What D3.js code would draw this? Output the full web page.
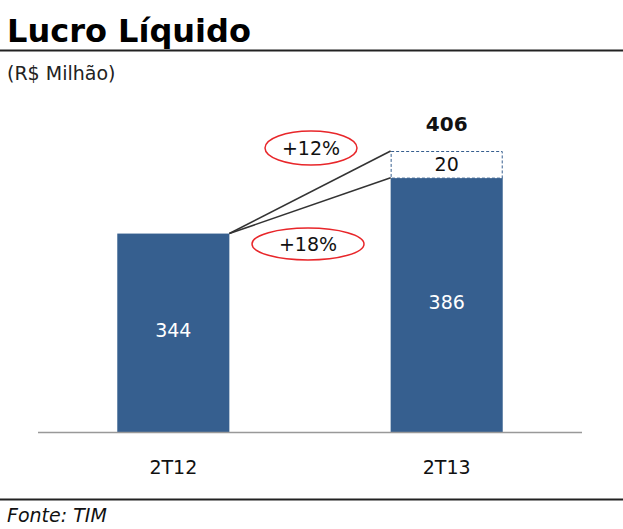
<!DOCTYPE html>
<html>
<head>
<meta charset="utf-8">
<script src="https://cdn.jsdelivr.net/npm/d3@7"></script>
<style>
  body { margin: 0; background: #fff; }
  text { font-family: "DejaVu Sans", Verdana, sans-serif; }
</style>
</head>
<body>
<svg id="svg" width="623" height="529"></svg>
<script>
const categories = ["2T12", "2T13"]
const baseValues = [344, 386]
const extraValues = [0, 20]
const totalLabel = 406
const growthLabels = ["+12%", "+18%"]

const svg = d3.select("#svg")
const x = d3.scaleBand(categories, [38, 582]).paddingInner(0.59).paddingOuter(0.29)
const y = d3.scaleLinear([195, 406], [432, 151])
const barColor = "#365f8f"

// header
svg.append("text").attr("x", 7).attr("y", 42).attr("font-size", 32).attr("font-weight", "bold").attr("fill", "#000").text("Lucro Líquido")
svg.append("line").attr("x1", 0).attr("x2", 623).attr("y1", 50.5).attr("y2", 50.5).attr("stroke", "#222").attr("stroke-width", 2)
svg.append("text").attr("x", 7).attr("y", 80).attr("font-size", 19).attr("fill", "#222").text("(R$ Milhão)")

// bars
svg.selectAll("rect.bar").data(categories).join("rect").attr("class", "bar")
  .attr("x", d => x(d)).attr("width", x.bandwidth())
  .attr("y", (d, i) => y(baseValues[i])).attr("height", (d, i) => y.range()[0] - y(baseValues[i]))
  .attr("fill", barColor)

// dashed extra box
const topValue = baseValues[1] + extraValues[1]
svg.append("rect").attr("x", x(categories[1]) + 0.5).attr("width", x.bandwidth() - 1)
  .attr("y", y(topValue) + 0.5).attr("height", y(baseValues[1]) - y(topValue))
  .attr("fill", "#fff").attr("stroke", barColor).attr("stroke-dasharray", "3,2").attr("stroke-width", 1)

svg.selectAll("text.val").data(categories).join("text").attr("class", "val")
  .attr("x", d => x(d) + x.bandwidth() / 2)
  .attr("y", (d, i) => (y(baseValues[i]) + y.range()[0]) / 2 + 4)
  .attr("text-anchor", "middle").attr("font-size", 19).attr("fill", "#fff")
  .text((d, i) => baseValues[i])

svg.append("text").attr("x", x(categories[1]) + x.bandwidth() / 2).attr("y", (y(topValue) + y(baseValues[1])) / 2 + 7)
  .attr("text-anchor", "middle").attr("font-size", 19).attr("fill", "#111").text(extraValues[1])
svg.append("text").attr("x", x(categories[1]) + x.bandwidth() / 2).attr("y", y(topValue) - 20)
  .attr("text-anchor", "middle").attr("font-size", 20).attr("font-weight", "bold").attr("fill", "#111").text(totalLabel)

// connector lines
const x0 = x(categories[0]) + x.bandwidth()
const x1 = x(categories[1])
const line = d3.line()
svg.selectAll("path.conn").data([topValue, baseValues[1]]).join("path").attr("class", "conn")
  .attr("d", d => line([[x0, y(baseValues[0])], [x1, y(d)]]))
  .attr("stroke", "#333").attr("stroke-width", 1.6).attr("fill", "none")

// growth ellipses
const ells = [{ cx: 311, cy: 148, rx: 46, ry: 17 }, { cx: 308, cy: 244, rx: 56, ry: 16 }]
ells.forEach((e, i) => {
  svg.append("ellipse").attr("cx", e.cx).attr("cy", e.cy).attr("rx", e.rx).attr("ry", e.ry)
    .attr("fill", "#fff").attr("stroke", "#e8262a").attr("stroke-width", 1.5)
  svg.append("text").attr("x", e.cx).attr("y", e.cy + 7).attr("text-anchor", "middle")
    .attr("font-size", 19).attr("fill", "#111").text(growthLabels[i])
})

// axis
svg.append("line").attr("x1", 38).attr("x2", 582).attr("y1", 432.5).attr("y2", 432.5).attr("stroke", "#999").attr("stroke-width", 1.5)
svg.selectAll("text.cat").data(categories).join("text").attr("class", "cat")
  .attr("x", d => x(d) + x.bandwidth() / 2).attr("y", 474)
  .attr("text-anchor", "middle").attr("font-size", 19).attr("fill", "#111").text(d => d)

// footer
svg.append("line").attr("x1", 0).attr("x2", 623).attr("y1", 499.5).attr("y2", 499.5).attr("stroke", "#222").attr("stroke-width", 2)
svg.append("text").attr("x", 7).attr("y", 522).attr("font-size", 19).attr("font-style", "italic").attr("fill", "#111").text("Fonte: TIM")
</script>
</body>
</html>
